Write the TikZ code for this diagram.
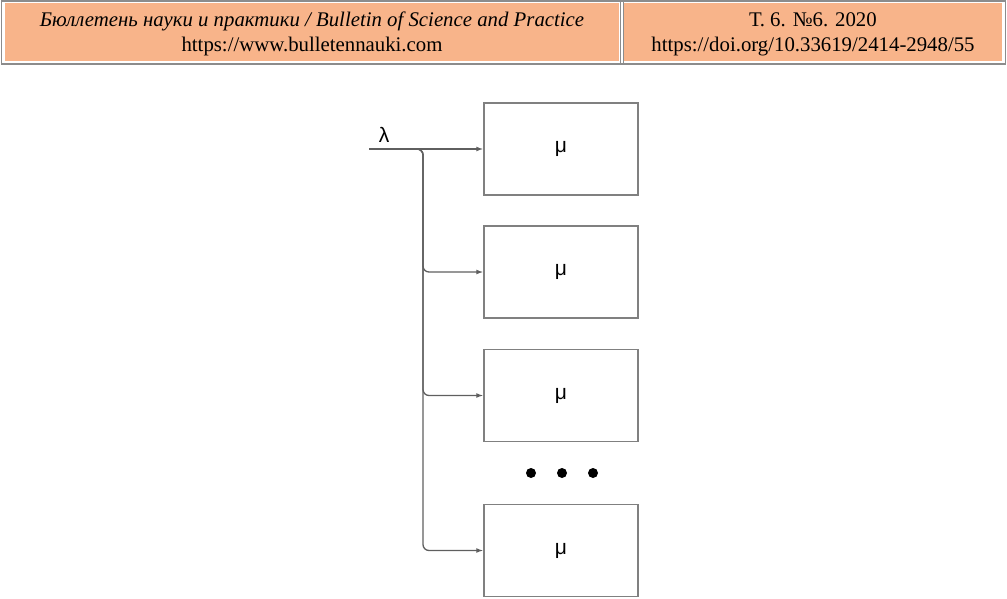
\documentclass[tikz,border=0pt]{standalone}
\usepackage{fontspec}
\setmainfont{Liberation Serif}
\newfontfamily\diagfont{Liberation Sans}
\usetikzlibrary{arrows.meta}
\definecolor{hdrfill}{RGB}{248,180,138}
\definecolor{hdrline}{RGB}{140,140,140}
\definecolor{boxline}{RGB}{128,128,128}
\definecolor{conline}{RGB}{95,95,95}
\tikzset{
  qbox/.style={draw=boxline, line width=1.5pt, minimum width=154pt, minimum height=92pt, inner sep=0pt, font=\diagfont\fontsize{21}{24}\selectfont},
  hdrtext/.style={anchor=base, inner sep=0pt, font=\fontsize{20.8}{24}\selectfont},
  arr/.style={draw=conline, line width=1.3pt, -{Latex[length=7pt,width=5pt]}},
  dotnode/.style={circle, fill=black, inner sep=0pt, minimum size=10pt},
}
\begin{document}
\begin{tikzpicture}[x=1pt,y=-1pt]
\useasboundingbox (0,0) rectangle (1007,599);
% header
\draw[hdrline, line width=1.5pt, fill=white] (1.5,1) rectangle (1005.5,64);
\fill[hdrfill] (5,3) rectangle (619,61.5);
\fill[hdrfill] (624,3) rectangle (1002,61.5);
\draw[hdrline, line width=1pt] (620,2) -- (620,63);
\draw[hdrline, line width=1pt] (623.5,2) -- (623.5,63);
\node[hdrtext] (h1) at (312,27) {\itshape Бюллетень науки и практики / Bulletin of Science and Practice};
\node[hdrtext] (h2) at (312,52) {https://www.bulletennauki.com};
\node[hdrtext] (h3) at (813,27) {Т. 6. №6. 2020};
\node[hdrtext] (h4) at (813,52) {https://doi.org/10.33619/2414-2948/55};
% boxes
\node[qbox] (b1) at (561,149) {μ};
\node[qbox] (b2) at (561,272) {μ};
\node[qbox] (b3) at (561,395.5) {μ};
\node[qbox] (b4) at (561,550.5) {μ};
% input
\coordinate (in) at (369,149);
\coordinate (sp) at (414,149);
\node[font=\diagfont\fontsize{21}{24}\selectfont, inner sep=0pt] (lam) at (384,135) {λ};
\draw[arr] (in) -- (in -| b1.west);
\draw[arr, rounded corners=6pt] (sp) -- (423,149) |- (b2.west);
\draw[arr, rounded corners=6pt] (sp) -- (423,149) |- (b3.west);
\draw[arr, rounded corners=6pt] (sp) -- (423,149) |- (b4.west);
% dots
\node[dotnode] (d1) at (531,473) {};
\node[dotnode] (d2) at (562,473) {};
\node[dotnode] (d3) at (593,473) {};
\end{tikzpicture}
\end{document}
